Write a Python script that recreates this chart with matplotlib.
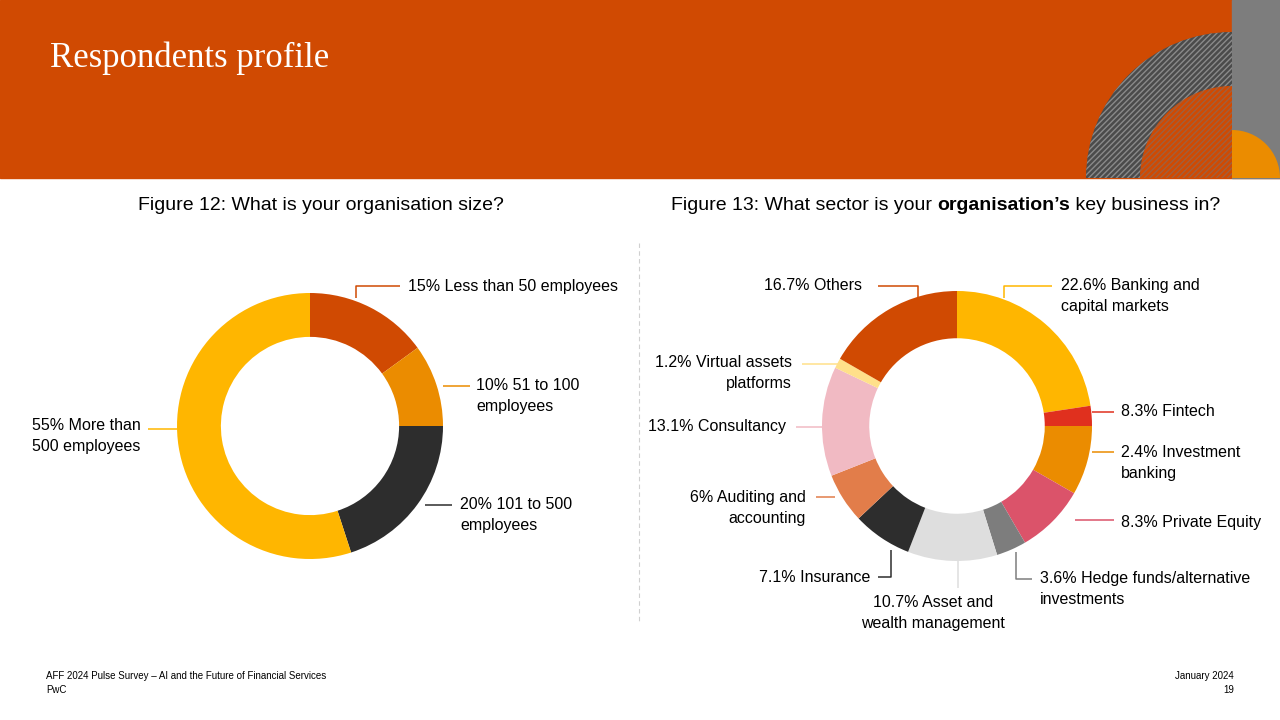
import matplotlib.pyplot as plt
from matplotlib.patches import Rectangle, Wedge

plt.rcParams.update({'font.family': 'Liberation Sans', 'hatch.linewidth': 1.0})

# Figure 12 data (clockwise from 12 o'clock)
size_values = [15, 10, 20, 55]
size_colors = ['#D04A02', '#EB8C00', '#2D2D2D', '#FFB600']

# Figure 13 data (clockwise from 12 o'clock, as drawn)
sector_values = [22.6, 2.4, 8.3, 8.3, 3.6, 10.7, 7.1, 6.0, 13.1, 1.2, 16.7]
sector_colors = ['#FFB600', '#E0301E', '#EB8C00', '#DB536A', '#7D7D7D', '#DEDEDE',
                 '#2D2D2D', '#E27D4A', '#F1BAC3', '#FFE08A', '#D04A02']

W, H = 1280, 720
def Y(y):
    return H - y

fig = plt.figure(figsize=(12.8, 7.2), dpi=100)
ax = fig.add_axes([0, 0, 1, 1])

# header band + decoration
ax.add_patch(Rectangle((0, Y(178)), W, 178, color='#D04A02', zorder=0))
ax.add_patch(Rectangle((1232, Y(178)), 48, 178, color='#7D7D7D', zorder=1))
ax.add_patch(Wedge((1232, Y(178)), 146, 90, 180, facecolor='#4B4B4B', edgecolor='#8A8A8A',
                   hatch='//////', linewidth=0, zorder=2))
ax.add_patch(Wedge((1232, Y(178)), 92, 90, 180, facecolor='#D04A02', edgecolor='#A0603E',
                   hatch='//////', linewidth=0, zorder=3))
ax.add_patch(Wedge((1232, Y(178)), 48, 0, 90, color='#EB8C00', linewidth=0, zorder=3))
ax.text(50, Y(58), 'Respondents profile', color='white', fontsize=25,
        family='Liberation Serif', va='center', ha='left')

# subtitles
ax.text(321, Y(205), 'Figure 12: What is your organisation size?', fontsize=14,
        ha='center', va='center')
t1 = ax.text(671, Y(205), 'Figure 13: What sector is your ', fontsize=14, ha='left', va='center')
t2 = ax.annotate('organisation\u2019s', xy=(1, 0.5), xycoords=t1, fontsize=14,
                 fontweight='bold', ha='left', va='center')
ax.annotate(' key business in?', xy=(1, 0.5), xycoords=t2, fontsize=14, ha='left', va='center')

# separator
ax.plot([639, 639], [Y(243), Y(622)], color='#D0D0D0', lw=0.8, ls=(0, (4, 3)))

# donuts
ax.pie(size_values, colors=size_colors, startangle=90, counterclock=False,
       center=(310, Y(426)), radius=133, wedgeprops=dict(width=133 * 0.33, linewidth=0))
ax.pie(sector_values, colors=sector_colors, startangle=90, counterclock=False,
       center=(957, Y(426)), radius=135, wedgeprops=dict(width=135 * 0.35, linewidth=0))
ax.set_xlim(0, W)
ax.set_ylim(0, H)
ax.set_aspect('equal', adjustable='box')
ax.axis('off')

fs = 11.5
def lead(xs, ys, c):
    ax.plot(xs, [Y(v) for v in ys], color=c, lw=1.1, solid_capstyle='butt')

def lab(x, y, s, ha='left'):
    ax.text(x, Y(y), s, fontsize=fs, ha=ha, va='center', linespacing=1.45)

# Figure 12 labels
lead([356, 356, 400], [298, 286, 286], '#D04A02'); lab(408, 286, '15% Less than 50 employees')
lead([443, 470], [386, 386], '#EB8C00'); lab(476, 396, '10% 51 to 100\nemployees')
lead([425, 452], [505, 505], '#2D2D2D'); lab(460, 515, '20% 101 to 500\nemployees')
lead([148, 177], [429, 429], '#FFB600'); lab(32, 436, '55% More than\n500 employees')

# Figure 13 labels
lead([878, 918, 918], [286, 286, 300], '#D04A02'); lab(862, 286, '16.7% Others', 'right')
lead([1004, 1004, 1052], [298, 286, 286], '#FFB600'); lab(1061, 296, '22.6% Banking and\ncapital markets')
lead([802, 838], [364, 364], '#FFE08A'); lab(792, 373, '1.2% Virtual assets\nplatforms', 'right')
lead([796, 822], [427, 427], '#F1BAC3'); lab(786, 427, '13.1% Consultancy', 'right')
lead([1092, 1114], [412, 412], '#E0301E'); lab(1121, 412, '8.3% Fintech')
lead([1092, 1114], [452, 452], '#EB8C00'); lab(1121, 463, '2.4% Investment\nbanking')
lead([816, 835], [497, 497], '#E27D4A'); lab(806, 508, '6% Auditing and\naccounting', 'right')
lead([1075, 1114], [520, 520], '#DB536A'); lab(1121, 522, '8.3% Private Equity')
lead([878, 891, 891], [577, 577, 550], '#2D2D2D'); lab(870, 577, '7.1% Insurance', 'right')
lead([958, 958], [561, 588], '#DEDEDE'); lab(933, 613, '10.7% Asset and\nwealth management', 'center')
lead([1016, 1016, 1032], [552, 579, 579], '#7D7D7D'); lab(1040, 589, '3.6% Hedge funds/alternative\ninvestments')

# footer
ax.text(46, Y(676), 'AFF 2024 Pulse Survey \u2013 AI and the Future of Financial Services',
        fontsize=7, va='center')
ax.text(46, Y(690), 'PwC', fontsize=7, va='center')
ax.text(1234, Y(676), 'January 2024', fontsize=7, va='center', ha='right')
ax.text(1234, Y(690), '19', fontsize=7, va='center', ha='right')

fig.savefig('out.png', dpi=100)
